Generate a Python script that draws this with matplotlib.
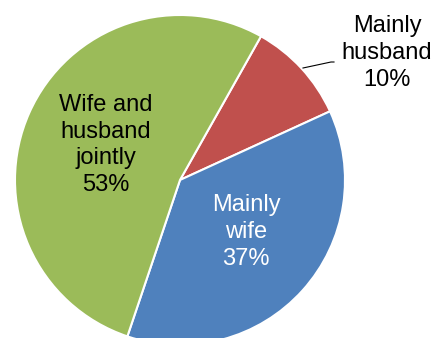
import matplotlib
matplotlib.use('Agg')
import matplotlib.pyplot as plt

# Datos
categories = ['Mainly\nhusband', 'Mainly\nwife', 'Wife and\nhusband\njointly']
shares = [10, 37, 53]
colors = ['#C0504D', '#4F81BD', '#9BBB59']

plt.rcParams['font.family'] = ['Liberation Sans', 'DejaVu Sans']

fig = plt.figure(figsize=(4.34, 3.38), dpi=100)
ax = fig.add_axes([0, 0, 1, 1])

# pie drawn in pixel-like coordinates so the layout matches the image
cx, cy, r = 180, 158, 165
wedges, _ = ax.pie(shares, colors=colors, startangle=60.6, counterclock=False,
                   center=(cx, cy), radius=r, frame=True,
                   wedgeprops=dict(edgecolor='white', linewidth=1.5))
ax.set_xlim(0, 434)
ax.set_ylim(0, 338)
ax.set_aspect('equal')
ax.axis('off')

# etiquetas
labels = [f'{c}\n{v}%' for c, v in zip(categories, shares)]
ax.text(387, 285, labels[0], ha='center', va='center', fontsize=17,
        linespacing=1.28, color='black')
ax.text(246, 106, labels[1], ha='center', va='center', fontsize=17,
        linespacing=1.28, color='white')
ax.text(106, 193, labels[2], ha='center', va='center', fontsize=17,
        linespacing=1.28, color='black')

# linea guia para "Mainly husband"
ax.plot([303, 331, 334], [270, 276, 276], color='black', linewidth=0.8)

plt.savefig('out.png', dpi=100)
plt.close()
